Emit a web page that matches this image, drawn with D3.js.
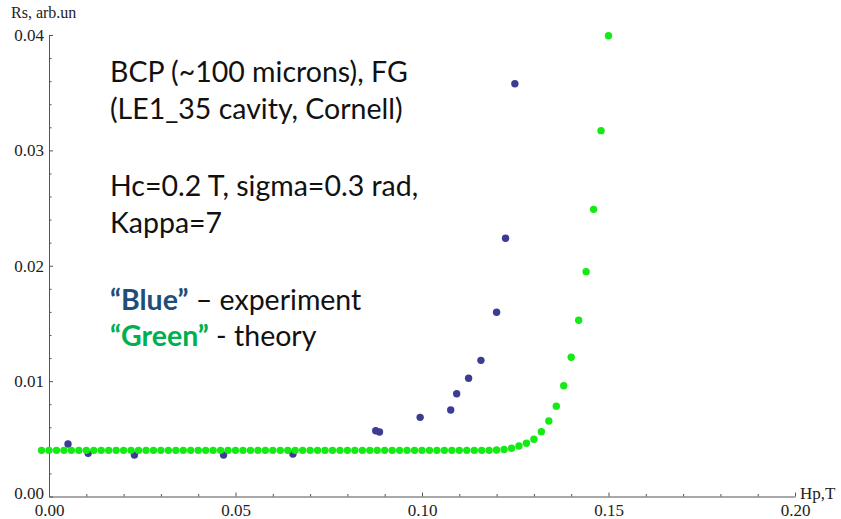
<!DOCTYPE html>
<html>
<head>
<meta charset="utf-8">
<script src="https://cdn.jsdelivr.net/npm/d3@7"></script>
<style>
  body { margin: 0; background: #fff; }
  svg { display: block; }
</style>
</head>
<body>
<svg id="chart"></svg>
<script>
// experiment (blue dots)
const expH = [0.0051, 0.0105, 0.0229, 0.0468, 0.0654, 0.0876, 0.0886, 0.0995, 0.1077, 0.1093, 0.1125, 0.1158, 0.1200, 0.1224, 0.1249];
const expRs = [0.00455, 0.00374, 0.00360, 0.00360, 0.00368, 0.00570, 0.00559, 0.00686, 0.00750, 0.00891, 0.01025, 0.01180, 0.01597, 0.02238, 0.03578];

// theory (green dots)
const theoryH = [
  -0.002, 0.000, 0.002, 0.004, 0.006, 0.008, 0.010, 0.012, 0.014, 0.016, 0.018,
  0.020, 0.022, 0.024, 0.026, 0.028, 0.030, 0.032, 0.034, 0.036, 0.038,
  0.040, 0.042, 0.044, 0.046, 0.048, 0.050, 0.052, 0.054, 0.056, 0.058,
  0.060, 0.062, 0.064, 0.066, 0.068, 0.070, 0.072, 0.074, 0.076, 0.078,
  0.080, 0.082, 0.084, 0.086, 0.088, 0.090, 0.092, 0.094, 0.096, 0.098,
  0.100, 0.102, 0.104, 0.106, 0.108, 0.110, 0.112, 0.114, 0.116, 0.118,
  0.120, 0.122, 0.124, 0.126, 0.128, 0.130, 0.132, 0.134, 0.136, 0.138,
  0.140, 0.142, 0.144, 0.146, 0.148, 0.150
];
const theoryRs = [
  0.0040, 0.0040, 0.0040, 0.0040, 0.0040, 0.0040, 0.0040, 0.0040, 0.0040, 0.0040, 0.0040,
  0.0040, 0.0040, 0.0040, 0.0040, 0.0040, 0.0040, 0.0040, 0.0040, 0.0040, 0.0040,
  0.0040, 0.0040, 0.0040, 0.0040, 0.0040, 0.0040, 0.0040, 0.0040, 0.0040, 0.0040,
  0.0040, 0.0040, 0.0040, 0.0040, 0.0040, 0.0040, 0.0040, 0.0040, 0.0040, 0.0040,
  0.0040, 0.0040, 0.0040, 0.0040, 0.0040, 0.0040, 0.0040, 0.0040, 0.0040, 0.0040,
  0.0040, 0.0040, 0.0040, 0.0040, 0.0040, 0.0040, 0.0040, 0.0040, 0.0040, 0.0040,
  0.00403, 0.00408, 0.00418, 0.00438, 0.00461, 0.00496, 0.00562, 0.00655, 0.00783, 0.00960,
  0.01207, 0.01527, 0.01949, 0.02489, 0.03171, 0.03994
];

const xTicks = [0, 0.05, 0.10, 0.15, 0.20];
const xMinor = [0.01, 0.02, 0.03, 0.04, 0.06, 0.07, 0.08, 0.09, 0.11, 0.12, 0.13, 0.14, 0.16, 0.17, 0.18, 0.19];
const yTicks = [0, 0.01, 0.02, 0.03, 0.04];
const yMinor = [0.002, 0.004, 0.006, 0.008, 0.012, 0.014, 0.016, 0.018, 0.022, 0.024, 0.026, 0.028, 0.032, 0.034, 0.036, 0.038];

const notes = [
  {text: "BCP (~100 microns), FG", y: 82},
  {text: "(LE1_35 cavity, Cornell)", y: 119},
  {text: "Hc=0.2 T, sigma=0.3 rad,", y: 196},
  {text: "Kappa=7", y: 233}
];

const w = 841;
const h = 519;

const svg = d3.select("#chart")
  .attr("width", w)
  .attr("height", h)
  .style("background", "white");

const xScale = d3.scaleLinear().domain([0, 0.2]).range([49, 795]);
const yScale = d3.scaleLinear().domain([0, 0.04]).range([496.5, 35]);

const axisColor = "#555";
const tickFont = "17px 'Liberation Serif', 'Times New Roman', serif";

// x axis (ticks point up into the plot)
const gx = svg.append("g")
  .attr("transform", `translate(0, ${yScale(0)})`)
  .call(d3.axisBottom(xScale).tickValues(xTicks).tickSize(-4).tickSizeOuter(0).tickPadding(7)
    .tickFormat(d3.format(".2f")));
gx.append("g")
  .call(d3.axisBottom(xScale).tickValues(xMinor).tickSize(-2.5).tickFormat(""))
  .select(".domain").remove();

// y axis (ticks point right)
const gy = svg.append("g")
  .attr("transform", `translate(${xScale(0)}, 0)`)
  .call(d3.axisLeft(yScale).tickValues(yTicks).tickSize(-4).tickSizeOuter(0).tickPadding(5)
    .tickFormat(d3.format(".2f")));
gy.append("g")
  .call(d3.axisLeft(yScale).tickValues(yMinor).tickSize(-2.5).tickFormat(""))
  .select(".domain").remove();

svg.selectAll(".domain, .tick line").attr("stroke", axisColor).attr("stroke-width", 1);
svg.selectAll(".tick text").attr("fill", "#222").style("font", tickFont);
// nudge the 0.00 y label up so it clears the x label below it
gy.selectAll(".tick text").filter(d => d === 0).attr("dy", "0.1em");

// axis titles
svg.append("text")
  .attr("x", 11)
  .attr("y", 18)
  .attr("fill", "#222")
  .style("font", "16px 'Liberation Serif', serif")
  .text("Rs, arb.un");

svg.append("text")
  .attr("x", 800)
  .attr("y", 499)
  .attr("fill", "#222")
  .style("font", "17px 'Liberation Serif', serif")
  .text("Hp,T");

// experiment points first, theory drawn over them
svg.append("g")
  .selectAll("circle")
  .data(expH.map((d, i) => ({h: d, rs: expRs[i]})))
  .enter().append("circle")
  .attr("cx", d => xScale(d.h))
  .attr("cy", d => yScale(d.rs))
  .attr("r", 3.7)
  .attr("fill", "#3c3c94");

svg.append("g")
  .selectAll("circle")
  .data(theoryH.map((d, i) => ({h: d, rs: theoryRs[i]})))
  .enter().append("circle")
  .attr("cx", d => xScale(d.h))
  .attr("cy", d => yScale(d.rs))
  .attr("r", 3.7)
  .attr("fill", "#14eb14");

// annotation text
const noteFont = "28.5px Lato, 'Open Sans', sans-serif";
svg.append("g")
  .selectAll("text")
  .data(notes)
  .enter().append("text")
  .attr("x", 110)
  .attr("y", d => d.y)
  .attr("fill", "#111")
  .style("font", noteFont)
  .text(d => d.text);

const blueLine = svg.append("text")
  .attr("x", 110)
  .attr("y", 310)
  .style("font", noteFont);
blueLine.append("tspan").attr("fill", "#1f4e79").attr("font-weight", "bold").text("\u201CBlue\u201D");
blueLine.append("tspan").attr("fill", "#111").text(" \u2013 experiment");

const greenLine = svg.append("text")
  .attr("x", 110)
  .attr("y", 346)
  .style("font", noteFont);
greenLine.append("tspan").attr("fill", "#00b050").attr("font-weight", "bold").text("\u201CGreen\u201D");
greenLine.append("tspan").attr("fill", "#111").text(" - theory");
</script>
</body>
</html>
